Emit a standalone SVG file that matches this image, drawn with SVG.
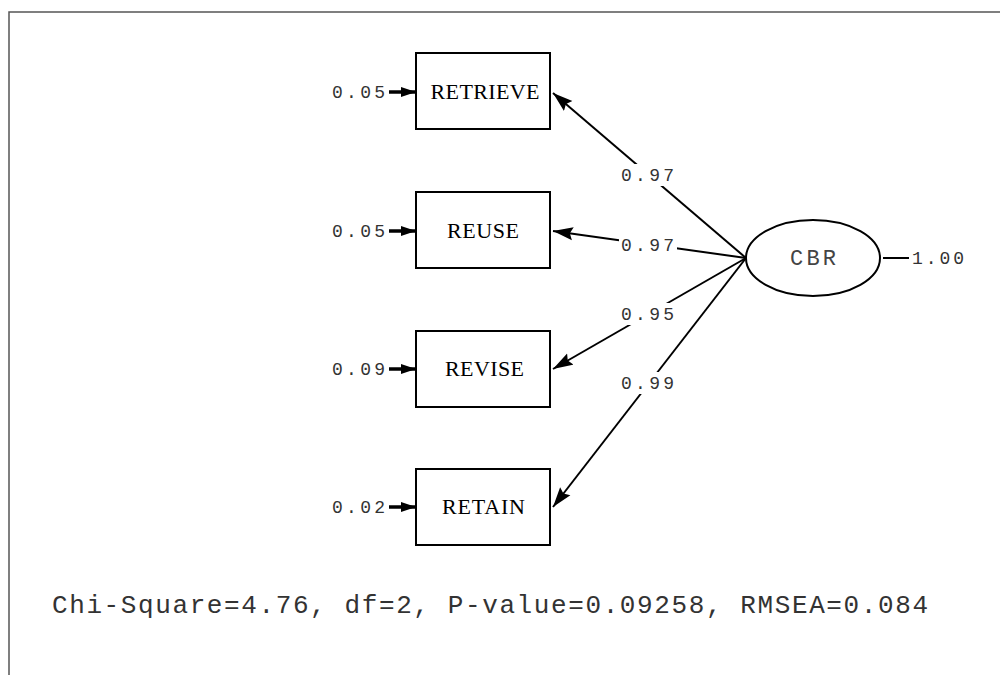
<svg xmlns="http://www.w3.org/2000/svg" width="1000" height="675" viewBox="0 0 1000 675">
<style>
.box{fill:#fff;stroke:#000;stroke-width:2}
.lbl{font-family:"Liberation Serif",serif;font-size:22px;fill:#000;text-anchor:middle}
.num{font-family:"Liberation Mono",monospace;font-size:18px;fill:#333}
.conn{stroke:#000;stroke-width:2;fill:none}
.bg{fill:#fff}
</style>
<defs>
<marker id="ah" markerUnits="userSpaceOnUse" markerWidth="22" markerHeight="14" refX="20" refY="7" orient="auto">
<path d="M0,0.5 L20,7 L0,13.5 L3,7 Z" fill="#000"/>
</marker>
<marker id="ah2" markerUnits="userSpaceOnUse" markerWidth="16" markerHeight="10" refX="15" refY="5" orient="auto">
<path d="M0,0 L15,5 L0,10 Z" fill="#000"/>
</marker>
</defs>
<rect width="1000" height="675" fill="#fff"/>
<path d="M9,675 V12 H1000" fill="none" stroke="#555" stroke-width="1.5"/>
<g id="connectors">
<line class="conn" x1="746" y1="258" x2="553" y2="93" marker-end="url(#ah)"/>
<line class="conn" x1="746" y1="258" x2="553" y2="231" marker-end="url(#ah)"/>
<line class="conn" x1="746" y1="258" x2="553" y2="369" marker-end="url(#ah)"/>
<line class="conn" x1="746" y1="258" x2="553" y2="507" marker-end="url(#ah)"/>
<line class="conn" x1="883" y1="258" x2="909" y2="258"/>
<line stroke="#000" stroke-width="3.5" x1="389" y1="92" x2="416" y2="92" marker-end="url(#ah2)"/>
<line stroke="#000" stroke-width="3.5" x1="389" y1="231" x2="416" y2="231" marker-end="url(#ah2)"/>
<line stroke="#000" stroke-width="3.5" x1="389" y1="369" x2="416" y2="369" marker-end="url(#ah2)"/>
<line stroke="#000" stroke-width="3.5" x1="389" y1="507" x2="416" y2="507" marker-end="url(#ah2)"/>
<rect class="bg" x="619" y="164" width="58" height="22"/>
<rect class="bg" x="619" y="234" width="58" height="22"/>
<rect class="bg" x="619" y="303" width="58" height="22"/>
<rect class="bg" x="619" y="372" width="58" height="22"/>
<text class="num" x="621" y="181" textLength="53">0.97</text>
<text class="num" x="621" y="251" textLength="53">0.97</text>
<text class="num" x="621" y="320" textLength="53">0.95</text>
<text class="num" x="621" y="389" textLength="53">0.99</text>
<text class="num" x="332" y="98" textLength="53">0.05</text>
<text class="num" x="332" y="237" textLength="53">0.05</text>
<text class="num" x="332" y="375" textLength="53">0.09</text>
<text class="num" x="332" y="513" textLength="53">0.02</text>
<text class="num" x="912" y="264" textLength="52">1.00</text>
</g>
<g id="retrieve"><rect class="box" x="416" y="53" width="134" height="76"/><text class="lbl" x="485" y="99" textLength="109">RETRIEVE</text></g>
<g id="reuse"><rect class="box" x="416" y="192" width="134" height="76"/><text class="lbl" x="483" y="238" textLength="72">REUSE</text></g>
<g id="revise"><rect class="box" x="416" y="331" width="134" height="76"/><text class="lbl" x="484.5" y="376" textLength="79">REVISE</text></g>
<g id="retain"><rect class="box" x="416" y="469" width="134" height="76"/><text class="lbl" x="483.5" y="514" textLength="83">RETAIN</text></g>
<g id="cbr"><ellipse cx="813" cy="258" rx="67" ry="38" fill="#fff" stroke="#000" stroke-width="2"/><text x="813" y="265" font-family="Liberation Mono,monospace" font-size="22" fill="#444" text-anchor="middle" textLength="46">CBR</text></g>
<text x="52" y="613" font-family="Liberation Mono,monospace" font-size="26" fill="#333" textLength="876">Chi-Square=4.76, df=2, P-value=0.09258, RMSEA=0.084</text>
</svg>
